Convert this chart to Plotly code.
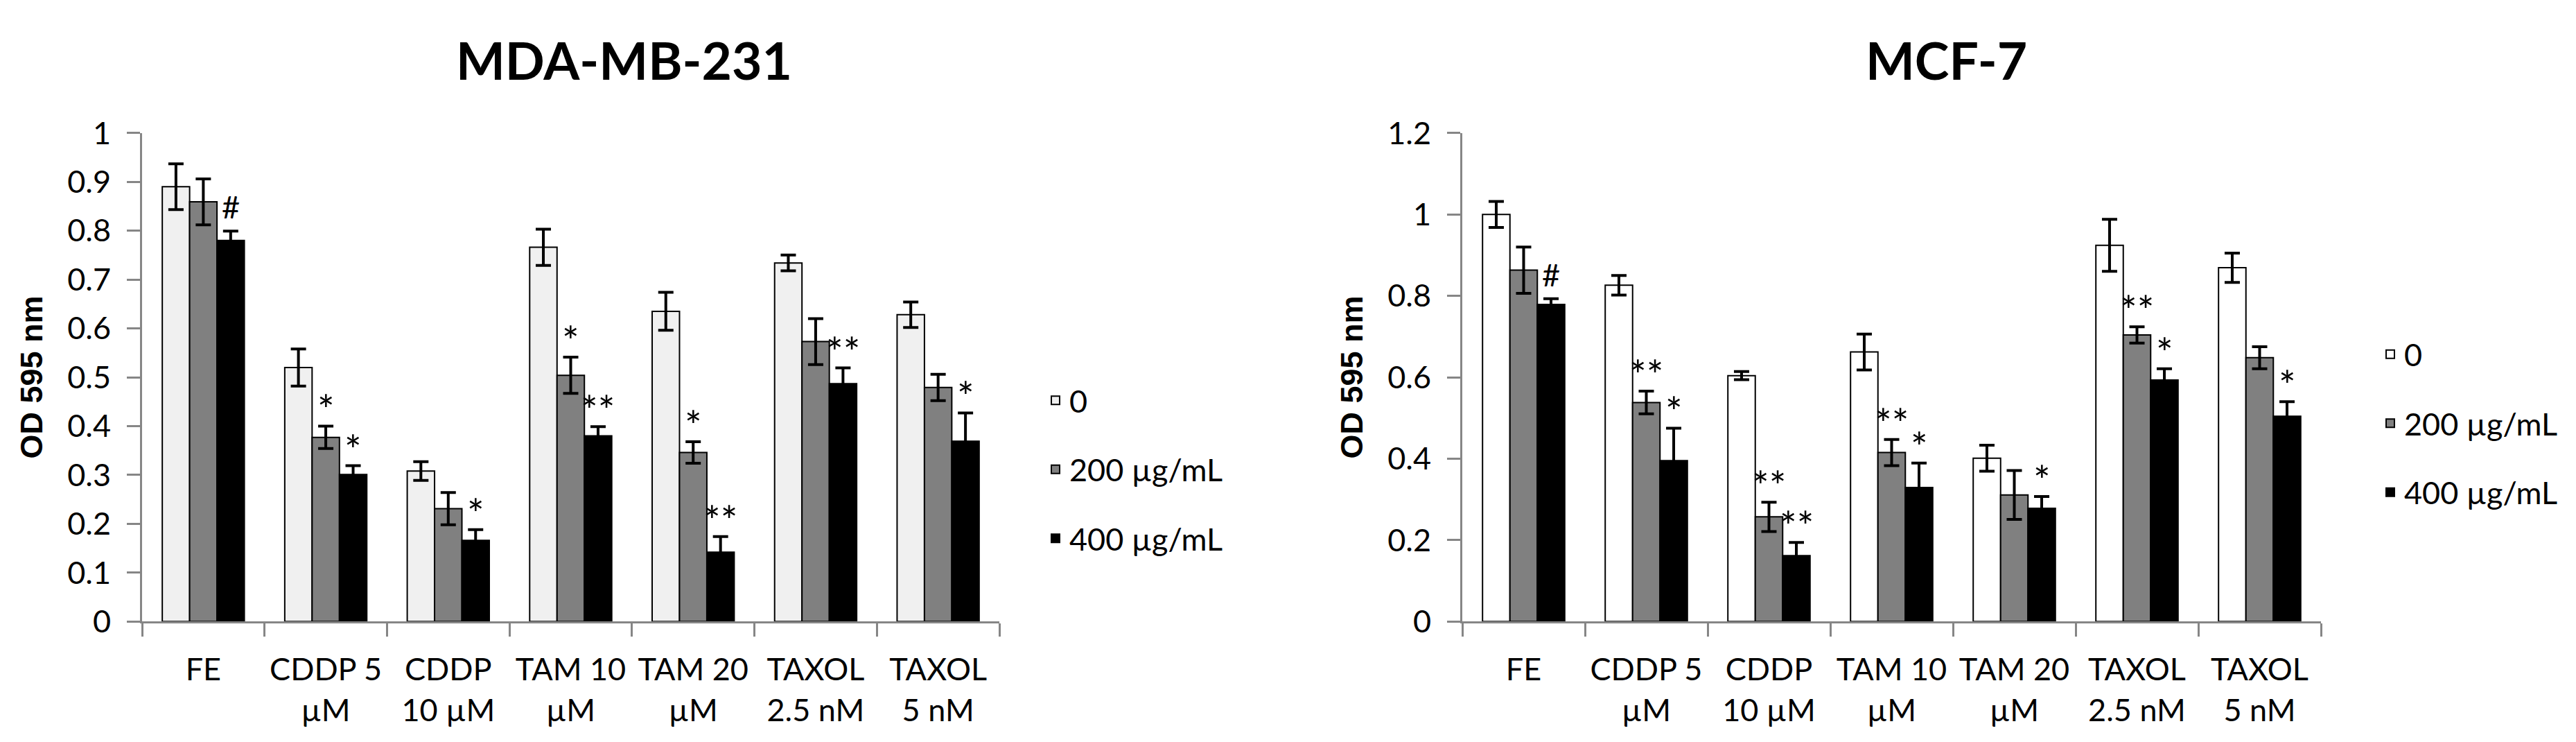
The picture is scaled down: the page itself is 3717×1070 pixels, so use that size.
import plotly.graph_objects as go

# ---------------- data ----------------
categories = ["FE", "CDDP 5<br>µM", "CDDP<br>10 µM", "TAM 10<br>µM", "TAM 20<br>µM",
              "TAXOL<br>2.5 nM", "TAXOL<br>5 nM"]
series_names = ["0", "200 µg/mL", "400 µg/mL"]

mda_0 = [0.89, 0.52, 0.308, 0.766, 0.635, 0.734, 0.628]
mda_0_err = [0.047, 0.038, 0.019, 0.037, 0.039, 0.016, 0.026]
mda_200 = [0.859, 0.377, 0.231, 0.504, 0.346, 0.573, 0.479]
mda_200_err = [0.047, 0.023, 0.033, 0.037, 0.022, 0.047, 0.027]
mda_400 = [0.780, 0.301, 0.166, 0.380, 0.142, 0.487, 0.369]
mda_400_err = [0.019, 0.018, 0.022, 0.019, 0.032, 0.032, 0.058]

mcf_0 = [1.0, 0.826, 0.604, 0.662, 0.401, 0.924, 0.869]
mcf_0_err = [0.032, 0.024, 0.010, 0.044, 0.032, 0.064, 0.036]
mcf_200 = [0.863, 0.538, 0.257, 0.415, 0.311, 0.704, 0.648]
mcf_200_err = [0.057, 0.028, 0.036, 0.032, 0.060, 0.020, 0.027]
mcf_400 = [0.779, 0.395, 0.162, 0.329, 0.278, 0.593, 0.504]
mcf_400_err = [0.014, 0.080, 0.032, 0.060, 0.029, 0.028, 0.036]

# significance marks: (category index, series index, text)
mda_marks = [(0, 2, "#"), (1, 1, "*"), (1, 2, "*"), (2, 2, "*"), (3, 1, "*"),
             (3, 2, "**"), (4, 1, "*"), (4, 2, "**"), (5, 2, "**"), (6, 2, "*")]
mcf_marks = [(0, 2, "#"), (1, 1, "**"), (1, 2, "*"), (2, 1, "**"), (2, 2, "**"),
             (3, 1, "**"), (3, 2, "*"), (4, 2, "*"), (5, 1, "**"), (5, 2, "*"),
             (6, 2, "*")]

panel_titles = ["MDA-MB-231", "MCF-7"]
y_title = "OD 595 nm"

# ---------------- style ----------------
W, H = 3717, 1070
FONT = "Lato, 'Open Sans', sans-serif"
AXIS_COLOR = "#868686"
BARGAP = 0.33
left_colors = ["#f0f0f0", "#808080", "#000000"]
right_colors = ["#ffffff", "#808080", "#000000"]

fig = go.Figure()

panels = [
    dict(vals=[mda_0, mda_200, mda_400], errs=[mda_0_err, mda_200_err, mda_400_err],
         colors=left_colors, xa="x", ya="y", legend="legend", marks=mda_marks),
    dict(vals=[mcf_0, mcf_200, mcf_400], errs=[mcf_0_err, mcf_200_err, mcf_400_err],
         colors=right_colors, xa="x2", ya="y2", legend="legend2", marks=mcf_marks),
]

annotations = []
bw = (1 - BARGAP) / 3.0
for pi, p in enumerate(panels):
    for si in range(3):
        fig.add_trace(go.Bar(
            x=categories, y=p["vals"][si], name=series_names[si],
            xaxis=p["xa"], yaxis=p["ya"], legend=p["legend"],
            legendgroup=f"p{pi}s{si}",
            marker=dict(color=p["colors"][si], line=dict(color="black", width=2)),
            error_y=dict(type="data", array=p["errs"][si], color="black",
                         thickness=4, width=11),
        ))
    for ci, si, txt in p["marks"]:
        top = p["vals"][si][ci] + p["errs"][si][ci]
        if txt == "#":
            fsize, ys = 45, 6
        else:
            fsize, ys = 58, -12
        annotations.append(dict(
            x=ci + (si - 1) * bw, y=top, xref=p["xa"], yref=p["ya"],
            text=txt, showarrow=False, yanchor="bottom", xanchor="center",
            yshift=ys,
            font=dict(family=FONT, size=fsize, color="black"),
        ))

# panel titles
for t, xc in zip(panel_titles, [0.240, 0.7533]):
    annotations.append(dict(
        x=xc, y=0.951, xref="paper", yref="paper", text=t, showarrow=False,
        xanchor="center", yanchor="middle",
        font=dict(family=FONT, size=75, color="black", weight="bold"),
    ))

Y_DOMAIN = [0.1533, 0.8467]
xcommon = dict(
    type="category", showline=True, linecolor=AXIS_COLOR, linewidth=3,
    ticks="outside", tickson="boundaries", ticklen=19, tickwidth=3,
    tickcolor=AXIS_COLOR, showgrid=False, zeroline=False,
    tickfont=dict(family=FONT, size=45, color="black"),
    ticklabelstandoff=28,
)
ycommon = dict(
    showline=True, linecolor=AXIS_COLOR, linewidth=3, ticks="outside",
    ticklen=19, tickwidth=3, tickcolor=AXIS_COLOR, showgrid=False,
    zeroline=False, domain=Y_DOMAIN, ticklabelstandoff=14,
    tickfont=dict(family=FONT, size=45, color="black"),
    title=dict(text=y_title, standoff=22,
               font=dict(family="'Liberation Sans', Arial, sans-serif",
                         size=45, color="black", weight="bold")),
)

legcommon = dict(
    font=dict(family=FONT, size=45, color="black"),
    tracegroupgap=38, bgcolor="rgba(0,0,0,0)", borderwidth=0,
    yanchor="middle", xanchor="left", itemclick=False, itemdoubleclick=False,
)

fig.update_layout(
    width=W, height=H, autosize=False,
    margin=dict(l=0, r=0, t=0, b=0),
    paper_bgcolor="white", plot_bgcolor="white",
    barmode="group", bargap=BARGAP, bargroupgap=0,
    xaxis=dict(domain=[197 / W, 1434 / W], anchor="y", **xcommon),
    yaxis=dict(anchor="x", range=[0, 1.0], dtick=0.1, **ycommon),
    xaxis2=dict(domain=[2102 / W, 3341 / W], anchor="y2", **xcommon),
    yaxis2=dict(anchor="x2", range=[0, 1.2], dtick=0.2, **ycommon),
    legend=dict(x=1495 / W, y=0.369, **legcommon),
    legend2=dict(x=3421 / W, y=0.4346, **legcommon),
    annotations=annotations,
    showlegend=True,
)

fig.write_html("out.html")
